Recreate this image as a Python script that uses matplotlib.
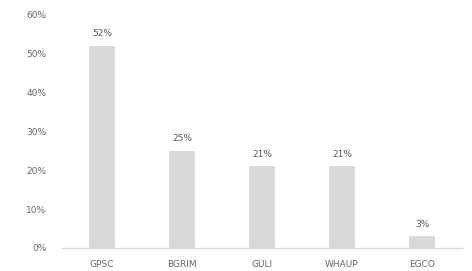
import matplotlib
matplotlib.use("Agg")
import matplotlib.pyplot as plt
from matplotlib.ticker import FuncFormatter

categories = ["GPSC", "BGRIM", "GULI", "WHAUP", "EGCO"]
values = [52, 25, 21, 21, 3]
labels = ["52%", "25%", "21%", "21%", "3%"]
yticks = [0, 10, 20, 30, 40, 50, 60]

fig = plt.figure(figsize=(4.72, 2.71), dpi=100)
ax = fig.add_axes([0.131, 0.085, 0.848, 0.86])
x = range(len(categories))
bars = ax.bar(x, values, width=0.32, color="#d9d9d9")
for xi, v, lab in zip(x, values, labels):
    ax.text(xi, v + 2.0, lab, ha="center", va="bottom", fontsize=6.5, color="#595959")
ax.set_xlim(-0.5, len(categories) - 0.5)
ax.set_ylim(0, 60)
ax.set_yticks(yticks)
ax.yaxis.set_major_formatter(FuncFormatter(lambda v, p: f"{int(v)}%"))
ax.set_xticks(list(x))
ax.set_xticklabels(categories)
ax.tick_params(axis="both", length=0, labelsize=6.5, colors="#666666")
ax.tick_params(axis="y", pad=11)
ax.tick_params(axis="x", pad=9)
for s in ["top", "right", "left"]:
    ax.spines[s].set_visible(False)
ax.spines["bottom"].set_color("#d9d9d9")
ax.spines["bottom"].set_linewidth(1.0)
fig.savefig("out.png", dpi=100)
